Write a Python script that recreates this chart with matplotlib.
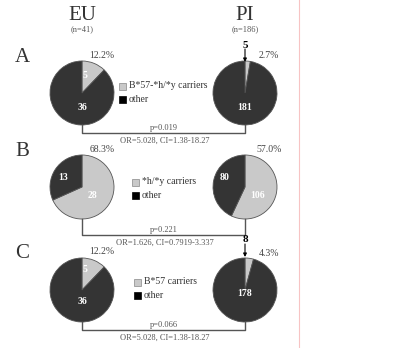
import matplotlib.pyplot as plt

plt.rcParams['font.family'] = ['Liberation Serif', 'DejaVu Serif']

# Data
groups = ["EU", "PI"]
group_n = ["(n=41)", "(n=186)"]
panels = ["A", "B", "C"]
legend_labels = ["B*57-*h/*y carriers", "*h/*y carriers", "B*57 carriers"]
eu_counts = [[5, 36], [28, 13], [5, 36]]
pi_counts = [[5, 181], [106, 80], [8, 178]]
eu_pct = ["12.2%", "68.3%", "12.2%"]
pi_pct = ["2.7%", "57.0%", "4.3%"]
p_values = ["p=0.019", "p=0.221", "p=0.066"]
or_text = ["OR=5.028, CI=1.38-18.27", "OR=1.626, CI=0.7919-3.337",
           "OR=5.028, CI=1.38-18.27"]

W, H = 401, 348
light = "#c9c9c9"
dark = "#343434"
gray = "#555555"

fig = plt.figure(figsize=(W / 100, H / 100), dpi=100)
ax = fig.add_axes([0, 0, 1, 1])


def Y(py):
    return H - py


x_eu, x_pi = 82, 245
r = 32
row_y = [93, 187, 290]
bracket_y = [133, 235, 330]
leg_pos = [(122, 86), (135, 182), (137, 282)]

# header
for x, g, n in zip([x_eu, x_pi], groups, group_n):
    ax.text(x, Y(15), g, ha="center", va="center", fontsize=15, color="#333333")
    ax.text(x, Y(29), n, ha="center", va="center", fontsize=6, color="#555555")

for i in range(3):
    cy = Y(row_y[i])
    for cx, counts in [(x_eu, eu_counts[i]), (x_pi, pi_counts[i])]:
        wedges, texts = ax.pie(counts, colors=[light, dark], center=(cx, cy),
                               radius=r, startangle=90, counterclock=False,
                               frame=True,
                               wedgeprops=dict(edgecolor="#555555", linewidth=0.6))
    # panel letter
    ax.text(22, Y(row_y[i] - 36), panels[i], ha="center", va="center",
            fontsize=15, color="#333333")
    # percentages
    ax.text(x_eu + 20, Y(row_y[i] - 38), eu_pct[i], ha="center", va="center",
            fontsize=7, color="#444444")
    ax.text(x_pi + 24, Y(row_y[i] - 37), pi_pct[i], ha="center", va="center",
            fontsize=7, color="#444444")
    # bracket
    yb = Y(bracket_y[i])
    ax.plot([x_eu, x_eu, x_pi, x_pi], [Y(row_y[i] + r), yb, yb, Y(row_y[i] + r)],
            color=gray, lw=1.0)
    ax.text((x_eu + x_pi) / 2, yb + 1, p_values[i], ha="center", va="bottom",
            fontsize=6, color="#555555")
    ax.text((x_eu + x_pi) / 2 + 1, yb - 4, or_text[i], ha="center", va="top",
            fontsize=6, color="#555555")
    # legend
    lx, ly = leg_pos[i]
    ax.add_patch(plt.Rectangle((lx - 3.5, Y(ly) - 3.5), 7, 7, facecolor=light,
                               edgecolor="#888888", lw=0.5))
    ax.add_patch(plt.Rectangle((lx - 3.5, Y(ly + 13) - 3.5), 7, 7, facecolor="black",
                               edgecolor="black", lw=0.5))
    ax.text(lx + 7, Y(ly), legend_labels[i], ha="left", va="center",
            fontsize=7, color="#333333")
    ax.text(lx + 7, Y(ly + 13), "other", ha="left", va="center",
            fontsize=7, color="#333333")

# counts inside pies
inner = [
    [(85, 75, "5"), (82, 108, "36"), (245, 107, "181")],
    [(63, 178, "13"), (93, 195, "28"), (225, 178, "80"), (258, 195, "106")],
    [(85, 269, "5"), (82, 302, "36"), (245, 294, "178")],
]
for row, items in zip(range(3), inner):
    for x, y, s in items:
        ax.text(x, Y(y), s, ha="center", va="center", fontsize=7,
                color="white", fontweight="bold")

# small PI slices annotated with arrows
for py, label in [(45, str(pi_counts[0][0])), (240, str(pi_counts[2][0]))]:
    ax.annotate("", xy=(x_pi, Y(py + 17)), xytext=(x_pi, Y(py + 4)),
                arrowprops=dict(arrowstyle="-|>", color="black", lw=0.8,
                                mutation_scale=5, shrinkA=0, shrinkB=0))
    ax.text(x_pi, Y(py), label, ha="center", va="center", fontsize=8,
            fontweight="bold", color="black")

# pink frame line on the right
ax.plot([299, 299], [0, H], color="#f7c4c4", lw=0.8)

ax.set_xlim(0, W)
ax.set_ylim(0, H)
ax.set_aspect("auto")
ax.axis("off")

fig.savefig("out.png", dpi=100)
